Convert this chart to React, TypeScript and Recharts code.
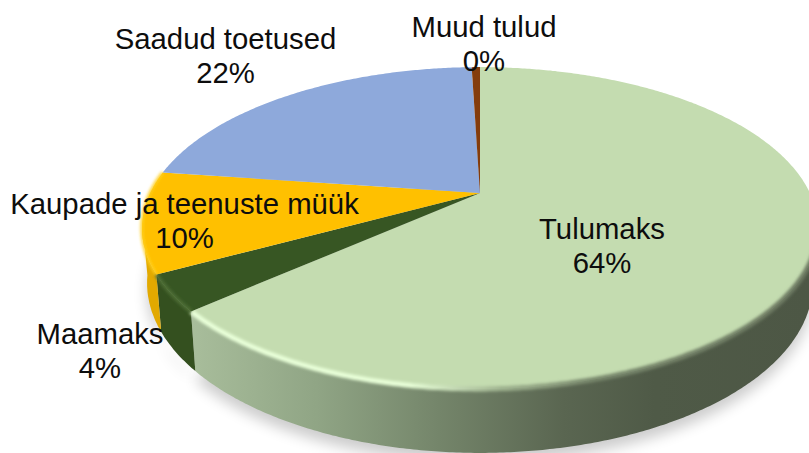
import { Pie, PieChart } from "recharts";

const categories = ["Tulumaks", "Maamaks", "Kaupade ja teenuste müük", "Saadud toetused", "Muud tulud"];
const shares = [63.5, 3.6, 10.1, 22.3, 0.49];
const colors = ["#c4dcb0", "#375623", "#ffc000", "#8ea9db", "#843c0c"];
const wallColors = ["url(#tulumaksWall)", "#34501f", "#e2a900", "#6f87b5", "#6a300a"];
const rimColors = ["url(#tulumaksRim)", "#4d6d36", "#ffcf1a", null, null];
const rimWidths = [5, 4, 3, 0, 0];

// where the text block of each label sits (middle x, first baseline y)
const labelSpots = [
  [602, 239],
  [100, 344],
  [184.5, 214],
  [225.5, 49],
  [484, 37],
];

const rows = categories.map((name, i) => ({ name, value: shares[i], fill: colors[i] }));

const WIDTH = 809;
const HEIGHT = 453;
const RX = 338;
const SQUASH = 0.476; // ry / rx
const APEX = -0.217; // apex offset from the ellipse centre, in units of ry
// the lower rim is a slightly different ellipse because of the perspective
const DROP = 55;
const LOW_X = 0.985;
const LOW_Y = 1.056;
// part of the rim that faces the viewer, in recharts degrees
const FRONT_FROM = -10;
const FRONT_TO = -170;

// perspective projection of a point on the pie rim, angle is recharts degrees
function rim(cx: number, cy: number, r: number, angle: number) {
  const t = ((90 - angle) * Math.PI) / 180;
  const u = Math.sin(t);
  const v = -Math.cos(t);
  const d = 1 + v * APEX;
  return {
    x: cx + (r * u * Math.sqrt(1 - APEX * APEX)) / d,
    y: cy + (r * SQUASH * (v + APEX)) / d,
  };
}

function arcPoints(p: any, from = p.startAngle, to = p.endAngle) {
  const steps = Math.max(2, Math.ceil(Math.abs(to - from) * 2));
  const pts = [];
  for (let i = 0; i <= steps; i++) {
    pts.push(rim(p.cx, p.cy, p.outerRadius, from + ((to - from) * i) / steps));
  }
  return pts;
}

const lower = (p: any, q: { x: number; y: number }, extra = 0) => ({
  x: p.cx + (q.x - p.cx) * LOW_X,
  y: p.cy + DROP + extra + (q.y - p.cy) * LOW_Y,
});

const toPath = (pts: { x: number; y: number }[]) =>
  pts.map((q, i) => `${i ? "L" : "M"}${q.x.toFixed(1)} ${q.y.toFixed(1)}`).join(" ");

function ShadowShape(p: any) {
  const pts = arcPoints(p).map((q) => lower(p, q, 9));
  return <path d={toPath(pts) + " Z"} fill="#000" opacity={0.2} filter="url(#softShadow)" />;
}

function WallShape(p: any) {
  const from = Math.min(p.startAngle, FRONT_FROM);
  const to = Math.max(p.endAngle, FRONT_TO);
  if (from <= to) return <g />;
  const pts = arcPoints(p, from, to);
  const low = pts.map((q) => lower(p, q)).reverse();
  return <path d={toPath([...pts, ...low]) + " Z"} fill={wallColors[categories.indexOf(p.name)]} />;
}

function TopShape(p: any) {
  const i = categories.indexOf(p.name);
  const apex = { x: p.cx, y: p.cy + p.outerRadius * SQUASH * APEX };
  const rimColor = rimColors[i];
  // only the front of the rim catches the bevel
  const from = Math.max(Math.min(p.startAngle, -5), p.endAngle);
  return (
    <g>
      <path d={toPath([apex, ...arcPoints(p)]) + " Z"} fill={colors[i]} />
      {rimColor && (
        <path
          d={toPath(arcPoints(p, from, Math.max(p.endAngle, -275)))}
          fill="none"
          stroke={rimColor}
          strokeWidth={rimWidths[i]}
          filter="url(#softRim)"
        />
      )}
    </g>
  );
}

function SliceLabel(p: any) {
  const i = categories.indexOf(p.name);
  const [x, y] = labelSpots[i];
  return (
    <text x={x} y={y} textAnchor="middle" fontFamily="Liberation Sans" fontSize={29.3} fill="#0d0d0d">
      <tspan x={x}>{p.name}</tspan>
      <tspan x={x} dy={33.5}>{`${Math.round(p.percent * 100)}%`}</tspan>
    </text>
  );
}

export default function App() {
  const pieProps = {
    data: rows,
    dataKey: "value",
    nameKey: "name",
    cx: 480,
    cy: 228,
    outerRadius: RX,
    startAngle: 90,
    endAngle: -270,
    stroke: "none",
    isAnimationActive: false,
  };
  return (
    <div style={{ position: "absolute", left: 0, top: 0, width: WIDTH, height: HEIGHT, overflow: "hidden", background: "#fff" }}>
      <PieChart width={WIDTH} height={HEIGHT} margin={{ top: 0, right: 0, bottom: 0, left: 0 }}>
        <defs>
          <linearGradient id="tulumaksWall" gradientUnits="userSpaceOnUse" x1={193} y1={0} x2={809} y2={0}>
            <stop offset="0" stopColor="#a8bd9b" />
            <stop offset="0.2" stopColor="#90a585" />
            <stop offset="0.4" stopColor="#74856a" />
            <stop offset="0.6" stopColor="#5a6651" />
            <stop offset="0.75" stopColor="#4f5a47" />
            <stop offset="1" stopColor="#4d5745" />
          </linearGradient>
          <linearGradient id="tulumaksRim" gradientUnits="userSpaceOnUse" x1={193} y1={0} x2={809} y2={0}>
            <stop offset="0" stopColor="#e8ffd8" />
            <stop offset="0.35" stopColor="#e8ffd8" />
            <stop offset="0.5" stopColor="#9fb38f" />
            <stop offset="0.65" stopColor="#77866b" />
            <stop offset="1" stopColor="#6d7a62" />
          </linearGradient>
          <filter id="softShadow" filterUnits="userSpaceOnUse" x={0} y={0} width={WIDTH} height={HEIGHT + 60}>
            <feGaussianBlur stdDeviation={7} />
          </filter>
          <filter id="softRim" filterUnits="userSpaceOnUse" x={0} y={0} width={WIDTH} height={HEIGHT}>
            <feGaussianBlur stdDeviation={1.6} />
          </filter>
        </defs>
        <Pie {...pieProps} shape={ShadowShape} />
        <Pie {...pieProps} shape={WallShape} />
        <Pie {...pieProps} shape={TopShape} label={SliceLabel} labelLine={false} />
      </PieChart>
    </div>
  );
}
